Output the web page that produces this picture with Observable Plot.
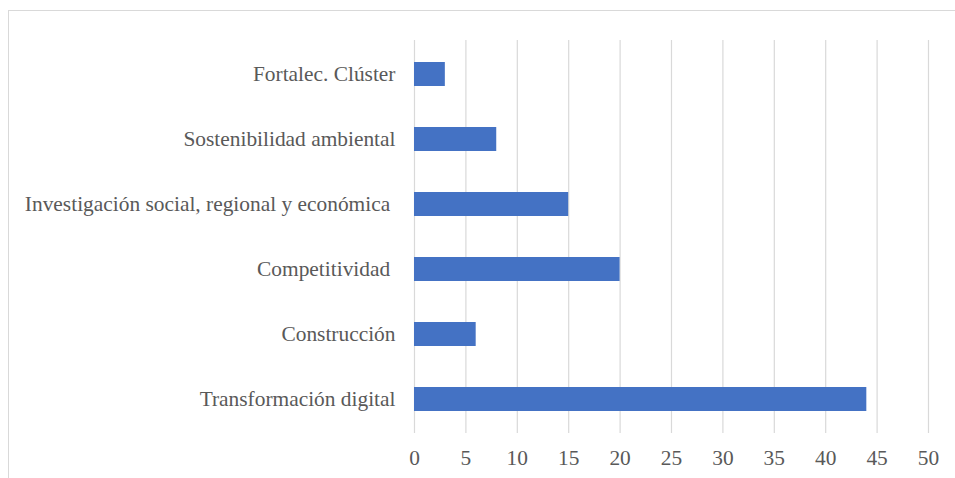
<!DOCTYPE html>
<html>
<head>
<meta charset="utf-8">
<script src="https://cdn.jsdelivr.net/npm/d3@7"></script>
<script src="https://cdn.jsdelivr.net/npm/@observablehq/plot@0.6"></script>
<style>
  html, body { margin: 0; padding: 0; background: #fff; }
  #wrap { position: relative; width: 955px; height: 478px; overflow: hidden; }
  #border { position: absolute; left: 8px; top: 10px; width: 980px; height: 500px; border: 1px solid #d9d9d9; box-sizing: border-box; }
  #chart { position: absolute; left: 0; top: 0; }
  #chart svg text { white-space: pre; }
</style>
</head>
<body>
<div id="wrap"><div id="border"></div><div id="chart"></div></div>
<script>
const categories = [
  "Fortalec. Clúster",
  "Sostenibilidad ambiental",
  "Investigación social, regional y económica ",
  "Competitividad ",
  "Construcción",
  "Transformación digital"
];
const values = [3, 8, 15, 20, 6, 44];
const xTicks = [0, 5, 10, 15, 20, 25, 30, 35, 40, 45, 50];

const data = categories.map((c, i) => ({category: c, value: values[i]}));
const FONT = "Liberation Serif";

const chart = Plot.plot({
  width: 955,
  height: 478,
  marginLeft: 414,
  marginRight: 27,
  marginTop: 40,
  marginBottom: 45,
  style: {fontFamily: FONT, fontSize: "21.4px", color: "#595959", background: "transparent"},
  x: {domain: [0, 50], ticks: xTicks, label: null},
  y: {domain: categories, label: null, paddingInner: 0.635, paddingOuter: 0.3175},
  marks: [
    Plot.gridX(xTicks, {stroke: "#d9d9d9", strokeOpacity: 1, strokeWidth: 1.2}),
    Plot.barX(data, {x: "value", y: "category", fill: "#4472C4"}),
    Plot.axisX(xTicks, {tickSize: 0, tickPadding: 16, fontFamily: FONT, fontSize: 21.4, fill: "#595959", label: null}),
    Plot.axisY({tickSize: 0, tickPadding: 19, fontFamily: FONT, fontSize: 21.4, fill: "#595959", label: null})
  ]
});
document.getElementById("chart").appendChild(chart);
</script>
</body>
</html>
